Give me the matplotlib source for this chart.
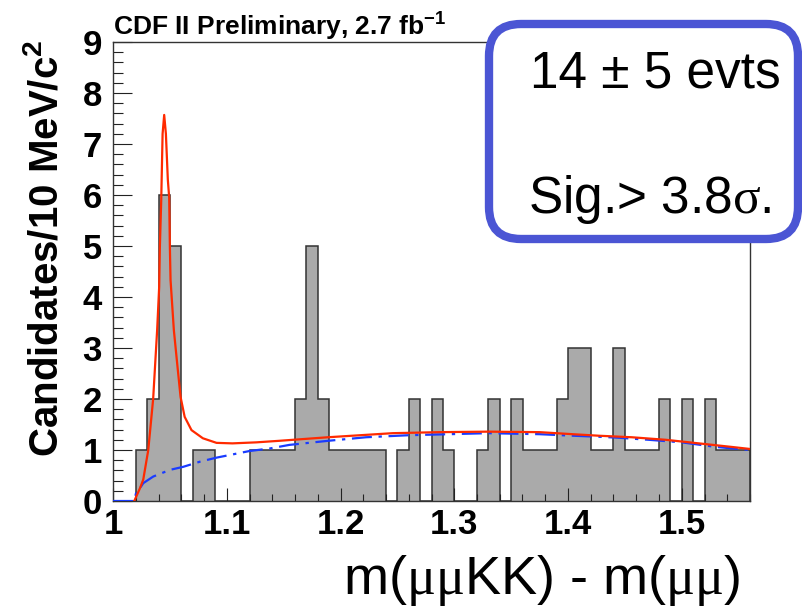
import numpy as np
import matplotlib
matplotlib.use('Agg')
import matplotlib.pyplot as plt
from matplotlib.patches import FancyBboxPatch
from matplotlib.ticker import MultipleLocator

plt.rcParams['font.family'] = ['Liberation Sans', 'DejaVu Sans']
plt.rcParams['mathtext.fontset'] = 'custom'
plt.rcParams['mathtext.rm'] = 'Liberation Serif'
plt.rcParams['mathtext.bf'] = 'Liberation Sans:bold'
plt.rcParams['mathtext.it'] = 'Liberation Sans:italic'

# histogram: 10 MeV bins from 1.00 to 1.56 GeV
bin_edges = np.round(np.arange(1.0, 1.5601, 0.01), 3)
counts = [0, 0, 1, 2, 6, 5, 0, 1, 1, 0,
          0, 0, 1, 1, 1, 1, 2, 5, 2, 1,
          1, 1, 1, 1, 0, 1, 2, 0, 2, 1,
          0, 0, 1, 2, 0, 2, 1, 1, 1, 2,
          3, 3, 1, 1, 3, 1, 1, 1, 2, 0,
          2, 0, 2, 1, 1, 1]

# total fit (red)
fit_x = [1.0187, 1.0237, 1.0266, 1.031, 1.0353, 1.0388, 1.0406, 1.0412, 1.0424,
         1.0436, 1.045, 1.0465, 1.0482, 1.0494, 1.05, 1.0506, 1.0535, 1.0564,
         1.0594, 1.063, 1.069, 1.079, 1.091, 1.105, 1.126, 1.146, 1.189, 1.246,
         1.287, 1.33, 1.375, 1.404, 1.427, 1.456, 1.486, 1.515, 1.544, 1.56]
fit_y = [0.0, 0.25, 0.42, 1.0, 2.0, 3.35, 4.2, 4.98, 5.9,
         7.2, 7.57, 7.2, 6.3, 5.95, 4.98, 4.33, 3.35, 2.7,
         2.04, 1.65, 1.39, 1.23, 1.14, 1.13, 1.15, 1.18, 1.25, 1.33,
         1.35, 1.36, 1.35, 1.31, 1.28, 1.25, 1.2, 1.13, 1.06, 1.02]

# background only (blue dash-dot)
bkg_x = [1.0, 1.0187, 1.0202, 1.0237, 1.0266, 1.0354, 1.05, 1.0617, 1.0763,
         1.091, 1.12, 1.138, 1.155, 1.189, 1.2225, 1.26, 1.2956, 1.33, 1.375,
         1.404, 1.427, 1.445, 1.471, 1.5, 1.53, 1.56]
bkg_y = [0.0, 0.0, 0.15, 0.25, 0.35, 0.48, 0.61, 0.67, 0.77,
         0.85, 0.98, 1.03, 1.1, 1.18, 1.25, 1.29, 1.31, 1.33, 1.31,
         1.28, 1.26, 1.24, 1.2, 1.15, 1.06, 1.0]

fig = plt.figure(figsize=(8.03, 6.08), dpi=100)
ax = fig.add_axes([113/803, 1-501/608, (750-113)/803, (501-42)/608])

ax.stairs(counts, bin_edges, fill=True, facecolor='#aaaaaa', edgecolor='none', zorder=1)
ax.stairs(counts, bin_edges, fill=False, edgecolor='#333333', linewidth=1.1, baseline=0, zorder=1.1)
ax.plot(bkg_x, bkg_y, color='#1a3cff', linewidth=1.6, linestyle=(0, (9, 3, 1.5, 3)), zorder=3)
ax.plot(fit_x, fit_y, color='#ff2a00', linewidth=1.6, zorder=4)

ax.set_xlim(1.0, 1.56)
ax.set_ylim(0, 9)
ax.xaxis.set_major_locator(MultipleLocator(0.1))
ax.xaxis.set_minor_locator(MultipleLocator(0.02))
ax.yaxis.set_major_locator(MultipleLocator(1))
ax.yaxis.set_minor_locator(MultipleLocator(0.2))
ax.set_xticks([1.0, 1.1, 1.2, 1.3, 1.4, 1.5])
ax.set_xticklabels(['1', '1.1', '1.2', '1.3', '1.4', '1.5'])
ax.tick_params(axis='both', which='both', direction='in', top=False, right=False, width=0.8, color='#222222')
ax.tick_params(axis='y', which='major', length=13.5, pad=8, labelsize=25)
ax.tick_params(axis='y', which='minor', length=7)
ax.tick_params(axis='x', which='major', length=9.5, pad=5, labelsize=25)
ax.tick_params(axis='x', which='minor', length=5)
for lab in ax.get_xticklabels() + ax.get_yticklabels():
    lab.set_fontweight('bold')
for sp in ax.spines.values():
    sp.set_linewidth(1.0)
    sp.set_color('#333333')

fig.text(66/803, 1-248/608, r'Candidates/10 MeV/c$^{\mathbf{2}}$', fontsize=29,
         fontweight='bold', rotation=90, ha='right', va='center')

fig.text(113/803, 1-36/608, r'CDF II Preliminary, 2.7 fb$^{\mathbf{-1}}$',
         fontsize=19, fontweight='bold', ha='left', va='baseline')
fig.text(740/803, 1-594/608, r'm($\mathrm{\mu\mu}$KK) - m($\mathrm{\mu\mu}$)',
         fontsize=39, ha='right', va='baseline')

box = FancyBboxPatch((4.89, 6.08-2.39), 3.09, 2.15,
                     boxstyle='round,pad=0,rounding_size=0.32',
                     transform=fig.dpi_scale_trans, facecolor='white',
                     edgecolor='#4b55d4', linewidth=6, zorder=5)
fig.patches.append(box)
fig.text(530/803, 1-88/608, '14 ± 5 evts', fontsize=37, ha='left', va='baseline', zorder=6)
fig.text(528/803, 1-213/608, r'Sig.> 3.8$\mathrm{\sigma}$.', fontsize=37, ha='left', va='baseline', zorder=6)

fig.savefig('out.png', dpi=100)
